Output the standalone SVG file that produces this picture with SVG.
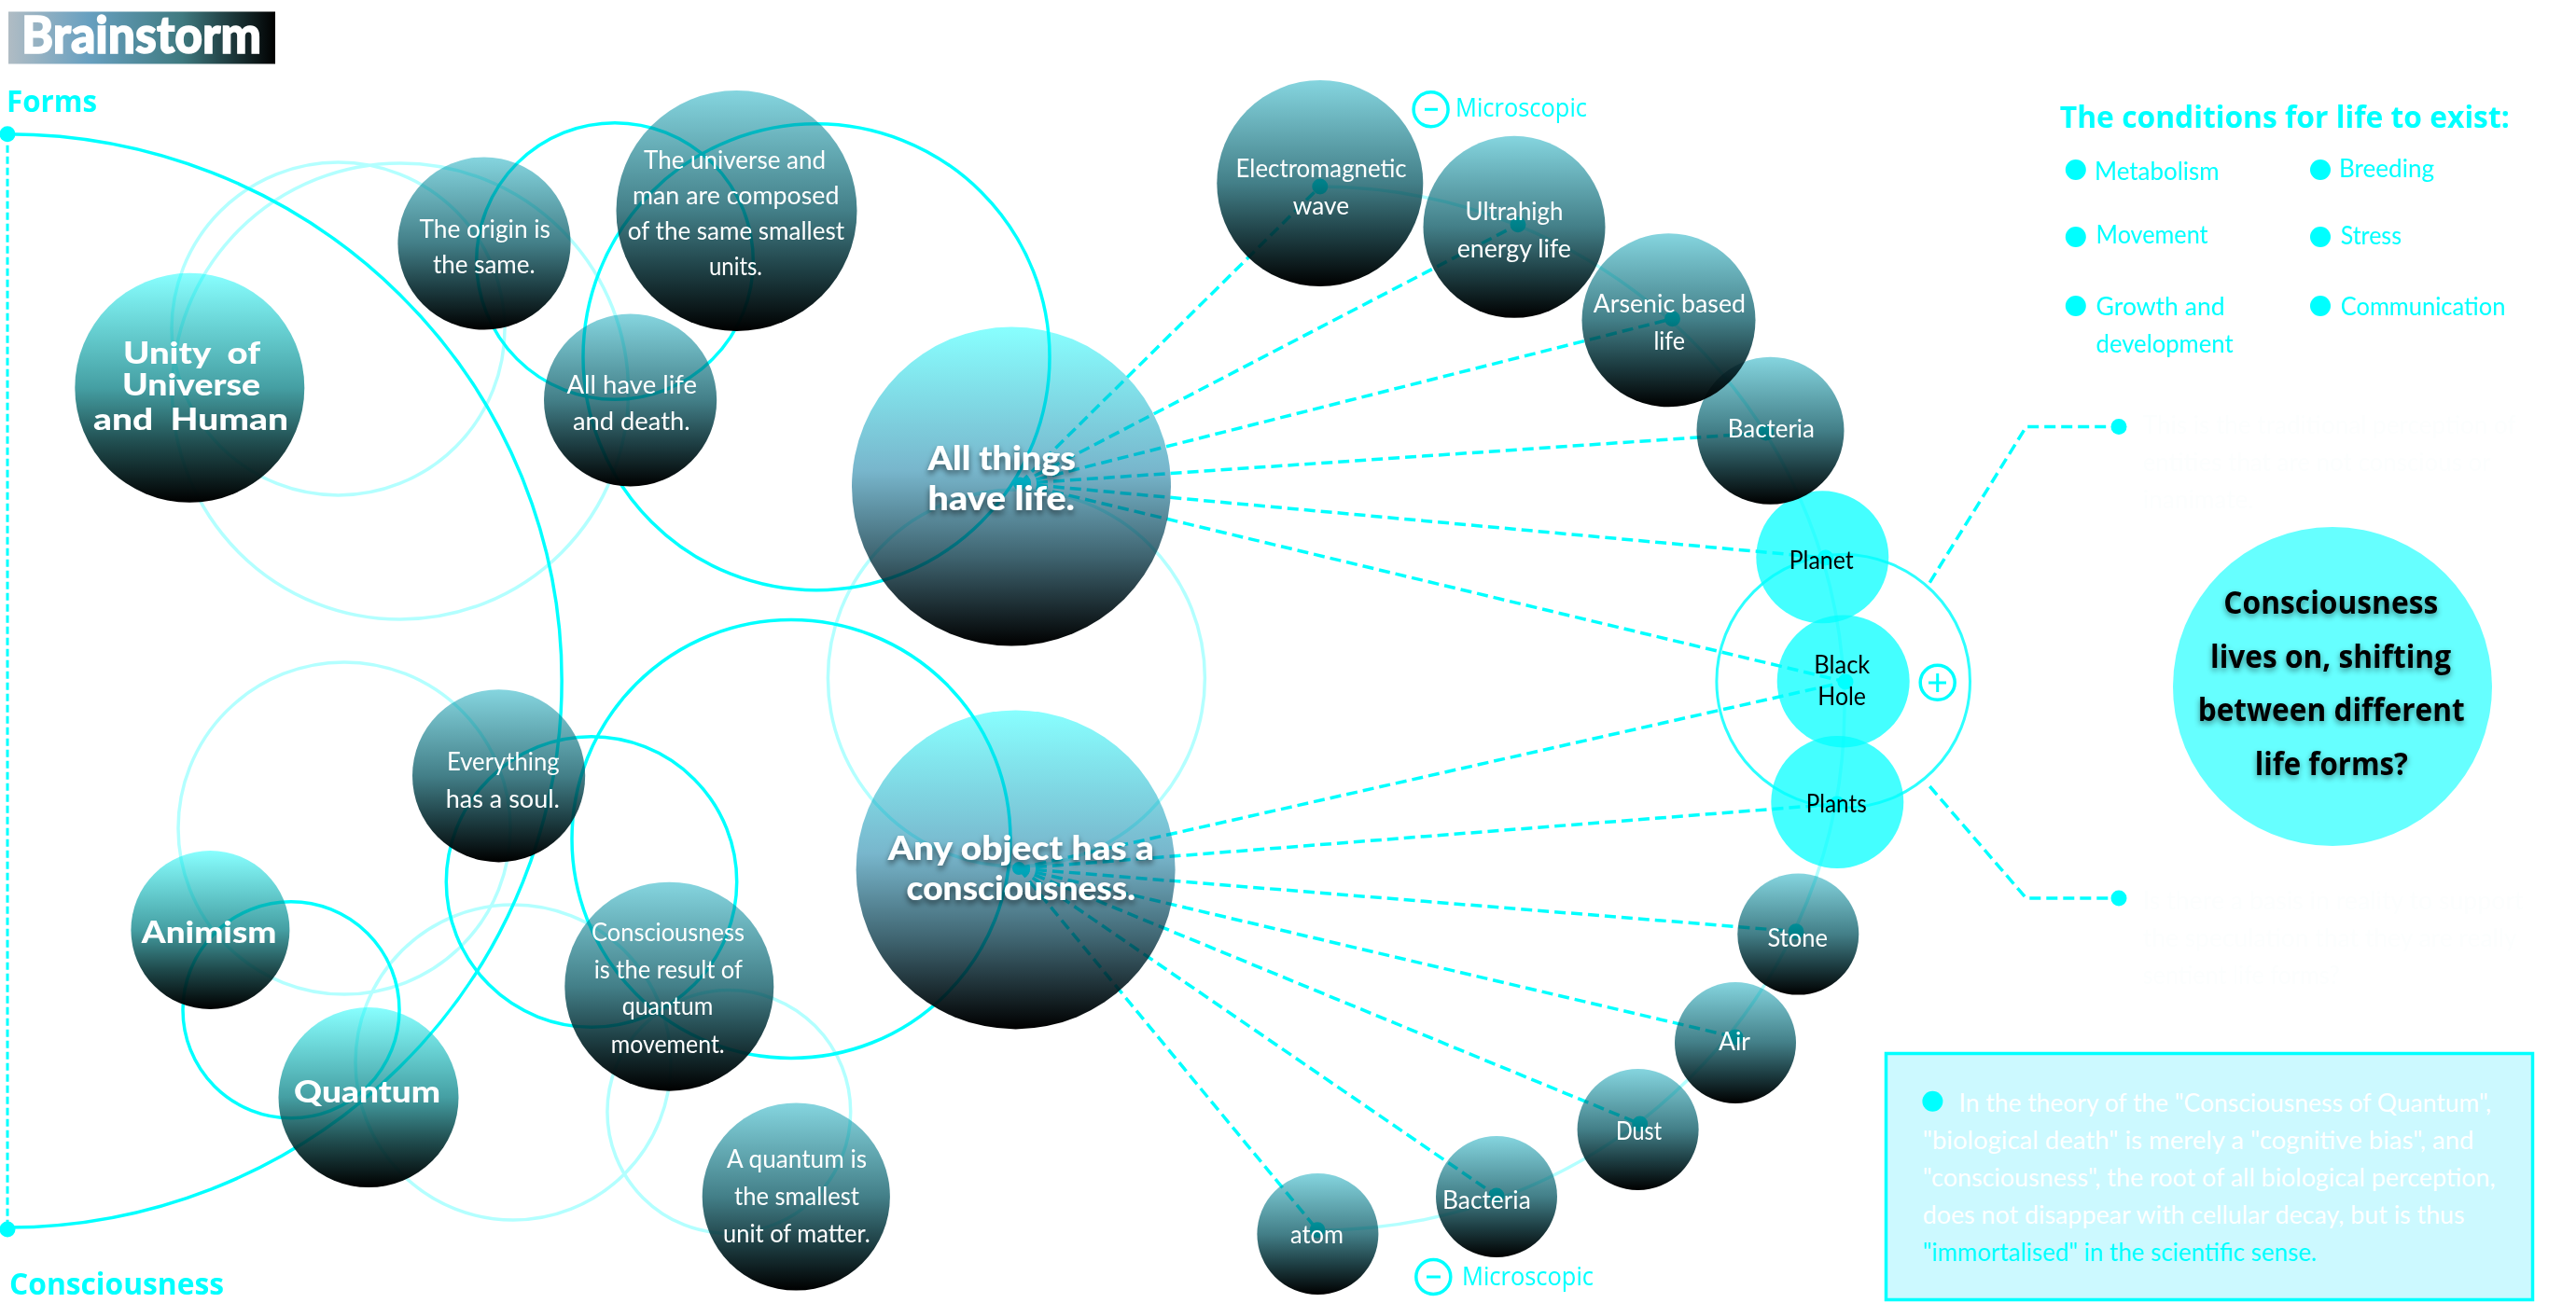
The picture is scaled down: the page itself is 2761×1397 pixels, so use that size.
<svg xmlns="http://www.w3.org/2000/svg" width="2761" height="1397" viewBox="0 0 2761 1397">
<style>
text{font-family:"Lato","Liberation Sans",sans-serif;white-space:pre}
.n{font-size:26px;fill:#fff}
.k{font-size:26px;fill:#000}
.b{font-size:33px;font-weight:900;fill:#fff}
.h{font-size:36px;font-weight:900;fill:#fff;filter:url(#sw)}
.t{font-family:"Open Sans","Noto Sans",sans-serif;font-weight:700;fill:#0ff}
.q{font-family:"Open Sans","Noto Sans",sans-serif;font-weight:700;font-size:34px;fill:#000;filter:url(#sk)}
.m{font-family:"Open Sans","Noto Sans",sans-serif;font-size:28px;fill:#0ff}
.c{font-size:27px;fill:#0ff}
.w{font-size:26px;fill:#fff}
.f{font-size:26px;fill:#fcfefe}
.dot{fill:#0ff}
.sm{fill:url(#gs);mix-blend-mode:multiply}
.bg{fill:url(#gb);mix-blend-mode:multiply}
.hg{fill:url(#gh);mix-blend-mode:multiply}
.cy{fill:#44ffff;mix-blend-mode:multiply}
.arc{fill:none;stroke:#0ff;stroke-width:3.5}
.lt{fill:none;stroke:#b3ffff;stroke-width:3.5}
.d{fill:none;stroke:#0ff;stroke-width:3.5;stroke-dasharray:12 6}
.d2{fill:none;stroke:#0ff;stroke-width:3;stroke-dasharray:8 4}
.o{fill:#fff;stroke:#0ff;stroke-width:3.5}
</style>
<defs>
<linearGradient id="gs" x1="0" y1="0" x2="0" y2="1"><stop offset="0" stop-color="#85d5df"/><stop offset=".5" stop-color="#437f88"/><stop offset=".75" stop-color="#1e3f44"/><stop offset="1" stop-color="#000"/></linearGradient>
<linearGradient id="gb" x1="0" y1="0" x2="0" y2="1"><stop offset="0" stop-color="#88ffff"/><stop offset=".5" stop-color="#459fa3"/><stop offset=".75" stop-color="#1f4a4c"/><stop offset="1" stop-color="#000"/></linearGradient>
<linearGradient id="gh" x1="0" y1="0" x2="0" y2="1"><stop offset="0" stop-color="#88ffff"/><stop offset=".45" stop-color="#78b6cc"/><stop offset=".72" stop-color="#3f6470"/><stop offset="1" stop-color="#000"/></linearGradient>
<linearGradient id="gl" x1="0" y1="0" x2="1" y2="0"><stop offset="0" stop-color="#b0bcc4"/><stop offset=".3" stop-color="#68a0c0"/><stop offset=".65" stop-color="#3f7a80"/><stop offset="1" stop-color="#000"/></linearGradient>
<filter id="sw" x="-20%" y="-40%" width="140%" height="200%"><feDropShadow dx="0" dy="4" stdDeviation="3" flood-color="#000" flood-opacity=".55"/></filter>
<filter id="sk" x="-20%" y="-40%" width="140%" height="200%"><feDropShadow dx="0" dy="3" stdDeviation="3" flood-color="#000" flood-opacity=".45"/></filter>
</defs>
<rect width="2761" height="1397" fill="#fff"/>
<g id="connectors">
<circle class="lt" cx="362.5" cy="352.5" r="178.5"/>
<circle class="lt" cx="429" cy="419.5" r="244.5"/>
<circle class="lt" cx="369" cy="888" r="178"/>
<circle class="lt" cx="550" cy="1139" r="169"/>
<circle class="lt" cx="781.3" cy="1192" r="130.4"/>
<circle class="lt" cx="1089.4" cy="727" r="202"/>
<path class="lt" d="M1414.8 200A563 559 0 0 1 1412 1319"/>
<circle class="arc" cx="659" cy="280" r="148.3"/>
<circle class="arc" cx="875" cy="382.7" r="250"/>
<circle class="arc" cx="312" cy="1082.7" r="116"/>
<circle class="arc" cx="634" cy="945.5" r="155.7"/>
<circle class="arc" cx="848" cy="899.5" r="235"/>
<path class="arc" d="M8 143.7A594 586 0 0 1 8 1316"/>
<path class="d2" d="M8 143.7V1318"/>
<circle class="dot" cx="8" cy="143.7" r="8.5"/><circle class="dot" cx="8" cy="1318" r="8.5"/>
<g class="d">
<path d="M1093 518.5L1414.8 200"/><path d="M1093 518.5L1627 240.7"/><path d="M1093 518.5L1792.5 341.7"/><path d="M1093 518.5L1892.7 464"/><path d="M1093 518.5L1956.7 598"/><path d="M1093 518.5L1978 731"/>
<path d="M1092 931L1978 731"/><path d="M1092 931L1969 862"/><path d="M1092 931L1925 998.7"/><path d="M1092 931L1860 1112"/><path d="M1092 931L1757.7 1205"/><path d="M1092 931L1604 1282"/><path d="M1092 931L1412 1318.7"/>
<path d="M2068.3 624.6L2171.7 457.5H2271"/><path d="M2068.3 843L2171.7 963H2271"/>
</g>
<g class="dot">
<circle cx="1414.8" cy="200" r="8.5"/><circle cx="1627" cy="240.7" r="8.5"/><circle cx="1792.5" cy="341.7" r="8.5"/><circle cx="1892.7" cy="464" r="8.5"/><circle cx="1956.7" cy="598" r="8.5"/><circle cx="1978" cy="731" r="8.5"/><circle cx="1969" cy="862" r="8.5"/><circle cx="1925" cy="998.7" r="8.5"/><circle cx="1860" cy="1112" r="8.5"/><circle cx="1757.7" cy="1205" r="8.5"/><circle cx="1604" cy="1282" r="8.5"/><circle cx="1412" cy="1318.7" r="8.5"/>
<circle cx="1093" cy="518.5" r="7"/><circle cx="1092" cy="931" r="7"/>
<circle cx="2271" cy="457.5" r="8.5"/><circle cx="2271" cy="963" r="8.5"/>
</g>
<circle cx="1975.7" cy="730.4" r="135.8" fill="none" stroke="#2dffff" stroke-width="3"/>
</g>
<g id="logo"><rect x="9" y="12.5" width="286" height="56" fill="url(#gl)"/><text x="23" y="57" font-size="56" font-weight="900" fill="#fff" stroke="#fff" stroke-width="1.5" textLength="257" lengthAdjust="spacingAndGlyphs">Brainstorm</text></g>
<g id="axis-labels"><text class="t" x="7" y="120" font-size="32" textLength="97" lengthAdjust="spacingAndGlyphs">Forms</text><text class="t" x="10" y="1388" font-size="32" textLength="230" lengthAdjust="spacingAndGlyphs">Consciousness</text></g>
<g id="node-unity"><circle class="bg" cx="203.3" cy="415.8" r="123"/><text class="b" x="132" y="390" textLength="147" lengthAdjust="spacingAndGlyphs">Unity  of</text><text class="b" x="131" y="424" textLength="148" lengthAdjust="spacingAndGlyphs">Universe</text><text class="b" x="100" y="460.7" textLength="209" lengthAdjust="spacingAndGlyphs">and  Human</text></g>
<g id="node-origin"><circle class="sm" cx="519" cy="261" r="92.6"/><text class="n" x="449.5" y="254.5" textLength="140.5" lengthAdjust="spacingAndGlyphs">The origin is</text><text class="n" x="464" y="293" textLength="109.6" lengthAdjust="spacingAndGlyphs">the same.</text></g>
<g id="node-all-have"><circle class="sm" cx="675.6" cy="429" r="92.6"/><text class="n" x="607.5" y="422" textLength="139.5" lengthAdjust="spacingAndGlyphs">All have life</text><text class="n" x="614" y="461" textLength="125.6" lengthAdjust="spacingAndGlyphs">and death.</text></g>
<g id="node-universe"><circle class="sm" cx="789.5" cy="226" r="129"/><text class="n" x="690" y="180.6" textLength="195" lengthAdjust="spacingAndGlyphs">The universe and</text><text class="n" x="678" y="219" textLength="221.5" lengthAdjust="spacingAndGlyphs">man are composed</text><text class="n" x="672.8" y="257" textLength="232.2" lengthAdjust="spacingAndGlyphs">of the same smallest</text><text class="n" x="760" y="295.4" textLength="57" lengthAdjust="spacingAndGlyphs">units.</text></g>
<g id="node-all-things"><circle class="hg" cx="1084" cy="521.6" r="171"/><text class="h" x="994.6" y="504" textLength="158.4" lengthAdjust="spacingAndGlyphs">All things</text><text class="h" x="994.6" y="546.7" textLength="157.4" lengthAdjust="spacingAndGlyphs">have life.</text></g>
<g id="node-any-object"><circle class="hg" cx="1088.6" cy="932.4" r="171"/><text class="h" x="951.7" y="922" textLength="285.3" lengthAdjust="spacingAndGlyphs">Any object has a</text><text class="h" x="971.6" y="965" textLength="245.4" lengthAdjust="spacingAndGlyphs">consciousness.</text></g>
<g id="node-everything"><circle class="sm" cx="534.6" cy="831.8" r="92.6"/><text class="n" x="479" y="825.8" textLength="120.6" lengthAdjust="spacingAndGlyphs">Everything</text><text class="n" x="477.7" y="865.8" textLength="122.3" lengthAdjust="spacingAndGlyphs">has a soul.</text></g>
<g id="node-animism"><circle class="bg" cx="225.4" cy="997" r="85"/><text class="b" x="151.8" y="1011" textLength="144.6" lengthAdjust="spacingAndGlyphs">Animism</text></g>
<g id="node-quantum"><circle class="bg" cx="395" cy="1176.6" r="96.5"/><text class="b" x="315" y="1182" textLength="157" lengthAdjust="spacingAndGlyphs">Quantum</text></g>
<g id="node-result"><circle class="sm" cx="717.3" cy="1057.7" r="112"/><text class="n" x="634" y="1009" textLength="164" lengthAdjust="spacingAndGlyphs">Consciousness</text><text class="n" x="636.7" y="1048.7" textLength="159.3" lengthAdjust="spacingAndGlyphs">is the result of</text><text class="n" x="666.7" y="1088" textLength="97.6" lengthAdjust="spacingAndGlyphs">quantum</text><text class="n" x="654.7" y="1129" textLength="122" lengthAdjust="spacingAndGlyphs">movement.</text></g>
<g id="node-smallest"><circle class="sm" cx="853.3" cy="1283" r="100.6"/><text class="n" x="779" y="1252" textLength="150" lengthAdjust="spacingAndGlyphs">A quantum is</text><text class="n" x="787" y="1292" textLength="134" lengthAdjust="spacingAndGlyphs">the smallest</text><text class="n" x="775" y="1332" textLength="157.7" lengthAdjust="spacingAndGlyphs">unit of matter.</text></g>
<g id="node-electromagnetic"><circle class="sm" cx="1414.8" cy="196.5" r="110.5"/><text class="n" x="1324.6" y="190" textLength="183.1" lengthAdjust="spacingAndGlyphs">Electromagnetic</text><text class="n" x="1385.8" y="230" textLength="60.2" lengthAdjust="spacingAndGlyphs">wave</text></g>
<g id="node-ultrahigh"><circle class="sm" cx="1623" cy="243.3" r="97.5"/><text class="n" x="1570.6" y="236" textLength="104.9" lengthAdjust="spacingAndGlyphs">Ultrahigh</text><text class="n" x="1561.7" y="276" textLength="122.3" lengthAdjust="spacingAndGlyphs">energy life</text></g>
<g id="node-arsenic"><circle class="sm" cx="1788.5" cy="343.3" r="93"/><text class="n" x="1707.7" y="335" textLength="163.3" lengthAdjust="spacingAndGlyphs">Arsenic based</text><text class="n" x="1772.4" y="375" textLength="33.6" lengthAdjust="spacingAndGlyphs">life</text></g>
<g id="node-bacteria-top"><circle class="sm" cx="1897.5" cy="461.7" r="79"/><text class="n" x="1851.7" y="469" textLength="93.3" lengthAdjust="spacingAndGlyphs">Bacteria</text></g>
<g id="node-planet"><circle class="cy" cx="1953.3" cy="597.3" r="71"/><text class="k" x="1917.7" y="610" textLength="69" lengthAdjust="spacingAndGlyphs">Planet</text></g>
<g id="node-black-hole"><circle class="cy" cx="1975.7" cy="730.4" r="71"/><text class="k" x="1944.3" y="722" textLength="60" lengthAdjust="spacingAndGlyphs">Black</text><text class="k" x="1948.3" y="755.7" textLength="51.7" lengthAdjust="spacingAndGlyphs">Hole</text></g>
<g id="node-plants"><circle class="cy" cx="1969.3" cy="860" r="71"/><text class="k" x="1935.7" y="871.4" textLength="65" lengthAdjust="spacingAndGlyphs">Plants</text></g>
<g id="node-stone"><circle class="sm" cx="1927.3" cy="1001.6" r="65"/><text class="n" x="1894.5" y="1014.7" textLength="64.5" lengthAdjust="spacingAndGlyphs">Stone</text></g>
<g id="node-air"><circle class="sm" cx="1860" cy="1118" r="65"/><text class="n" x="1842" y="1125.8" textLength="34" lengthAdjust="spacingAndGlyphs">Air</text></g>
<g id="node-dust"><circle class="sm" cx="1755.6" cy="1211" r="65"/><text class="n" x="1732" y="1222" textLength="49" lengthAdjust="spacingAndGlyphs">Dust</text></g>
<g id="node-bacteria-bottom"><circle class="sm" cx="1604" cy="1283" r="65"/><text class="n" x="1546" y="1296" textLength="94.8" lengthAdjust="spacingAndGlyphs">Bacteria</text></g>
<g id="node-atom"><circle class="sm" cx="1412.4" cy="1323" r="65"/><text class="n" x="1383" y="1333" textLength="57" lengthAdjust="spacingAndGlyphs">atom</text></g>
<g id="toggle-plus"><circle class="o" cx="2076.7" cy="731.8" r="18.5"/><path d="M2067 732H2086M2076.7 722V742" stroke="#0ff" stroke-width="3" fill="none"/></g>
<g id="toggle-minus-top"><circle class="o" cx="1533.6" cy="117.3" r="18.5"/><path d="M1527 117.3H1541" stroke="#0ff" stroke-width="3"/><text class="m" x="1560" y="125" textLength="141" lengthAdjust="spacingAndGlyphs">Microscopic</text></g>
<g id="toggle-minus-bottom"><circle class="o" cx="1536.3" cy="1369" r="18.5"/><path d="M1529 1369H1544" stroke="#0ff" stroke-width="3"/><text class="m" x="1567" y="1378" textLength="141" lengthAdjust="spacingAndGlyphs">Microscopic</text></g>
<g id="conditions">
<text class="t" x="2207.8" y="137" font-size="32" textLength="482" lengthAdjust="spacingAndGlyphs">The conditions for life to exist:</text>
<g class="dot"><circle cx="2224.8" cy="182" r="11"/><circle cx="2487" cy="182" r="11"/><circle cx="2224.8" cy="254" r="11"/><circle cx="2487" cy="254" r="11"/><circle cx="2224.8" cy="328" r="11"/><circle cx="2487" cy="328" r="11"/></g>
<text class="c" x="2245" y="193" textLength="133.6" lengthAdjust="spacingAndGlyphs">Metabolism</text>
<text class="c" x="2507" y="190" textLength="102" lengthAdjust="spacingAndGlyphs">Breeding</text>
<text class="c" x="2246.6" y="261" textLength="120" lengthAdjust="spacingAndGlyphs">Movement</text>
<text class="c" x="2508.7" y="262" textLength="65.3" lengthAdjust="spacingAndGlyphs">Stress</text>
<text class="c" x="2246.6" y="337.7" textLength="138" lengthAdjust="spacingAndGlyphs">Growth and</text>
<text class="c" x="2246.6" y="377.7" textLength="147" lengthAdjust="spacingAndGlyphs">development</text>
<text class="c" x="2508.7" y="337.7" textLength="176.7" lengthAdjust="spacingAndGlyphs">Communication</text>
</g>
<g id="note-top"><text class="f" x="2296.7" y="465" textLength="400" lengthAdjust="spacingAndGlyphs">This is the traditional perception of</text><text class="f" x="2296.7" y="505" textLength="373" lengthAdjust="spacingAndGlyphs">entities that are not conscious or</text><text class="f" x="2296.7" y="545" textLength="119" lengthAdjust="spacingAndGlyphs">inanimate.</text></g>
<g id="note-bottom"><text class="f" x="2296.7" y="975" textLength="408" lengthAdjust="spacingAndGlyphs">Is there a basis in reality to support</text><text class="f" x="2296.7" y="1015" textLength="401" lengthAdjust="spacingAndGlyphs">the speculation that they are really</text><text class="f" x="2296.7" y="1055" textLength="211" lengthAdjust="spacingAndGlyphs">sentient life forms?</text></g>
<g id="node-question"><circle cx="2500" cy="736" r="171" fill="#66ffff"/><text class="q" x="2383.3" y="658" textLength="230" lengthAdjust="spacingAndGlyphs">Consciousness</text><text class="q" x="2369" y="715.7" textLength="258" lengthAdjust="spacingAndGlyphs">lives on, shifting</text><text class="q" x="2355.7" y="773" textLength="286" lengthAdjust="spacingAndGlyphs">between different</text><text class="q" x="2416.7" y="831" textLength="164.3" lengthAdjust="spacingAndGlyphs">life forms?</text></g>
<g id="note-box"><rect x="2021.5" y="1129.5" width="693" height="264" fill="#ccf9ff" stroke="#0ff" stroke-width="3.5"/><circle class="dot" cx="2071.4" cy="1180.7" r="11"/>
<text class="w" x="2099.5" y="1191.7" textLength="570.5" lengthAdjust="spacingAndGlyphs">In the theory of the "Consciousness of Quantum",</text>
<text class="w" x="2060.7" y="1231.7" textLength="590.8" lengthAdjust="spacingAndGlyphs">"biological death" is merely a "cognitive bias", and</text>
<text class="w" x="2060.7" y="1271.7" textLength="614" lengthAdjust="spacingAndGlyphs">"consciousness", the root of all biological perception,</text>
<text class="w" x="2060.7" y="1311.7" textLength="581" lengthAdjust="spacingAndGlyphs">does not disappear with cellular decay, but is thus</text>
<text class="c" x="2060.7" y="1351.7" textLength="422.3" lengthAdjust="spacingAndGlyphs">"immortalised" in the scientific sense.</text></g>
</svg>
